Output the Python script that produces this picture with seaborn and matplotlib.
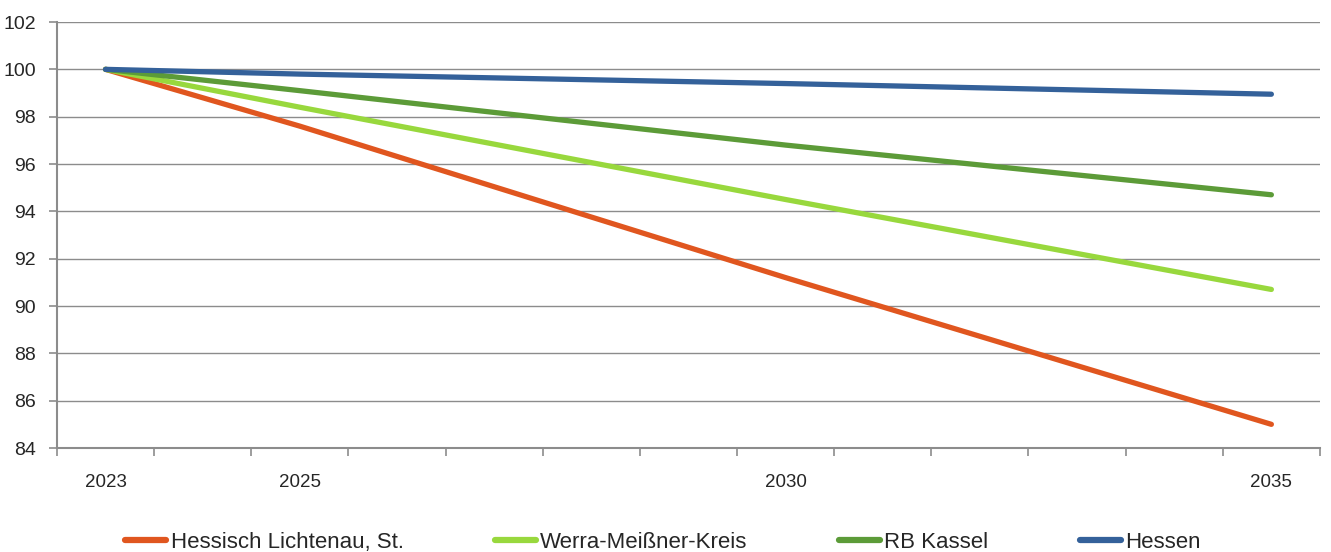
import numpy as np
import pandas as pd
import seaborn as sns
import matplotlib.pyplot as plt
from matplotlib.ticker import FixedLocator, NullFormatter

# data (index 2023 = 100)
years = [2023, 2025, 2030, 2035]
regions = ["Hessisch Lichtenau, St.", "Werra-Meißner-Kreis", "RB Kassel", "Hessen"]
lichtenau = [100.0, 97.6, 91.2, 85.0]
werra = [100.0, 98.4, 94.5, 90.7]
kassel = [100.0, 99.1, 96.8, 94.7]
hessen = [100.0, 99.8, 99.4, 98.95]
colors = ["#E0561F", "#98D83D", "#5C9B38", "#34619A"]
tick_years = [2023, 2025, 2030, 2035]

df = pd.DataFrame({
    "Jahr": years * 4,
    "Wert": lichtenau + werra + kassel + hessen,
    "Region": [r for r in regions for _ in years],
})

sns.set_style("white")
plt.rcParams["font.family"] = ["Liberation Sans", "DejaVu Sans"]

fig = plt.figure(figsize=(13.31, 5.52), dpi=100)
ax = fig.add_axes([0.0428, 0.1884, 0.9489, 0.7717])

sns.lineplot(data=df, x="Jahr", y="Wert", hue="Region", hue_order=regions,
             palette=colors, linewidth=3.8, ax=ax, legend=True,
             solid_capstyle="round")

ax.set_xlim(2022.5, 2035.5)
ax.set_ylim(84, 102)
ax.set_yticks(np.arange(84, 103, 2))
ax.yaxis.grid(True, color="#8c8c8c", linewidth=1.0)
ax.set_axisbelow(True)

# ticks at category boundaries, labels at selected years
ax.xaxis.set_major_locator(FixedLocator(np.arange(2022.5, 2036, 1)))
ax.xaxis.set_major_formatter(NullFormatter())
ax.xaxis.set_minor_locator(FixedLocator(tick_years))
ax.set_xticklabels([str(y) for y in tick_years], minor=True)
ax.tick_params(axis="x", which="major", length=6, width=1.2, color="#8c8c8c", direction="out", bottom=True)
ax.tick_params(axis="x", which="minor", length=0, pad=19, labelsize=13.5)
ax.tick_params(axis="y", length=6, width=1.2, color="#8c8c8c", direction="out", left=True, labelsize=14, pad=9)

for s in ["top", "right"]:
    ax.spines[s].set_visible(False)
for s in ["left", "bottom"]:
    ax.spines[s].set_color("#8c8c8c")
    ax.spines[s].set_linewidth(1.5)

ax.set_xlabel("")
ax.set_ylabel("")

handles, labels = ax.get_legend_handles_labels()
ax.get_legend().remove()
for h in handles:
    h.set_linewidth(4.5)
    h.set_solid_capstyle("round")
fig.legend(handles, labels, loc="center", bbox_to_anchor=(0.498, 0.017), ncol=4,
           frameon=False, fontsize=16, handlelength=1.85, handletextpad=0.2,
           columnspacing=4.1)

fig.savefig("out.png", dpi=100)
